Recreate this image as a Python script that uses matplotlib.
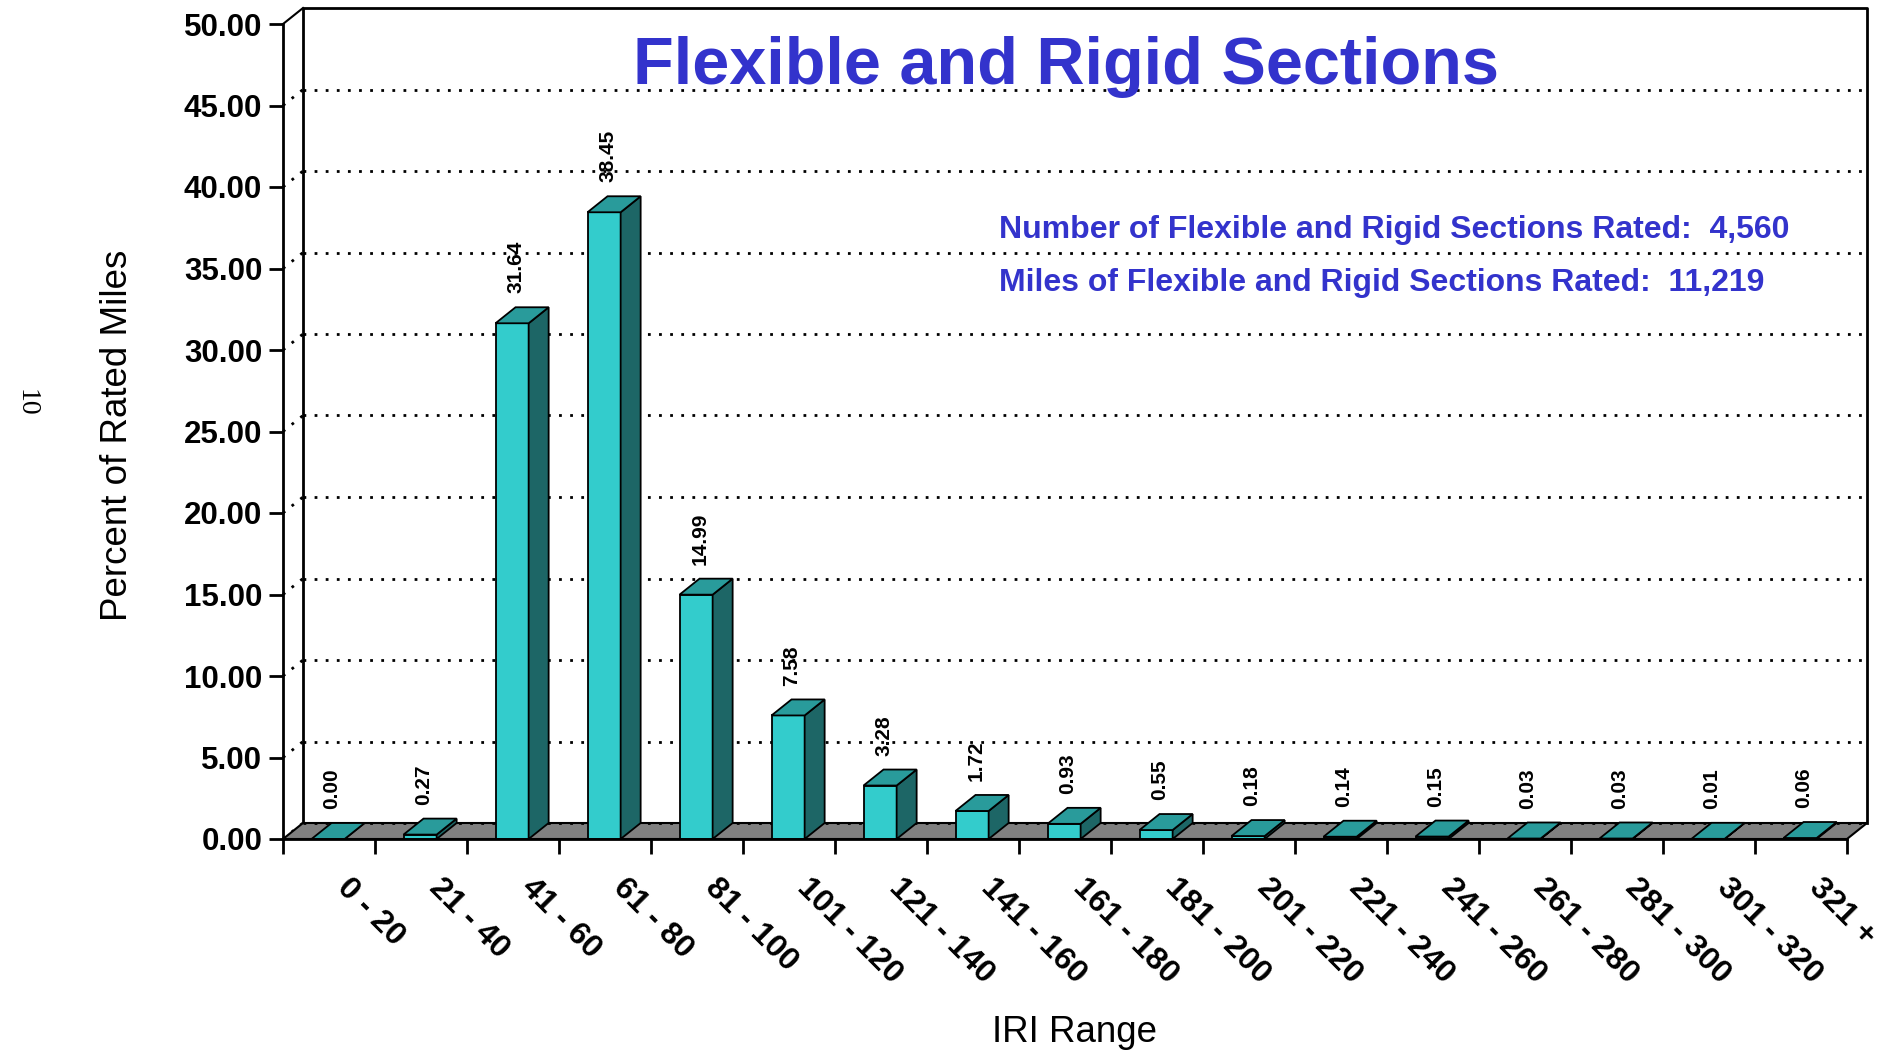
import matplotlib
matplotlib.use("Agg")
import matplotlib.pyplot as plt
from matplotlib.patches import Polygon, Rectangle

plt.rcParams['font.family'] = ['Liberation Sans', 'DejaVu Sans']

# data
categories = ['0 - 20', '21 - 40', '41 - 60', '61 - 80', '81 - 100', '101 - 120',
              '121 - 140', '141 - 160', '161 - 180', '181 - 200', '201 - 220',
              '221 - 240', '241 - 260', '261 - 280', '281 - 300', '301 - 320', '321 +']
percent = [0.00, 0.27, 31.64, 38.45, 14.99, 7.58, 3.28, 1.72, 0.93, 0.55,
           0.18, 0.14, 0.15, 0.03, 0.03, 0.01, 0.06]
yticks = [0, 5, 10, 15, 20, 25, 30, 35, 40, 45, 50]

n_sections = '4,560'
n_miles = '11,219'

front_col = '#33CCCC'
top_col = '#299B9B'
side_col = '#1D6666'
floor_col = '#808080'
blue = '#3333CC'

W, H = 1888, 1053
fig = plt.figure(figsize=(W / 100, H / 100), dpi=100)
ax = fig.add_axes([283 / W, (H - 839) / H, (1847 - 283) / W, (839 - 24) / H])

n = len(categories)
ymax = 50
ax.set_xlim(0, n)
ax.set_ylim(0, ymax)

# depth offset (pixels -> data units)
ax_w_px = 1847 - 283
ax_h_px = 839 - 24
dx = 20 / (ax_w_px / n)
dy = 16 / (ax_h_px / ymax)

# back wall + left wall grid
for y in yticks[:-1]:
    ax.plot([dx, n + dx], [y + dy, y + dy], color='black', lw=2,
            linestyle=(0, (1, 3)), clip_on=False, zorder=1)
    ax.plot([0, dx], [y, y + dy], color='black', lw=2,
            linestyle=(0, (1, 3)), clip_on=False, zorder=1)
ax.plot([dx, dx, n + dx, n + dx], [dy, ymax + dy, ymax + dy, dy],
        color='black', lw=2, clip_on=False, zorder=2)
ax.plot([0, dx], [ymax, ymax + dy], color='black', lw=1.5, clip_on=False, zorder=2)

# floor
floor = Polygon([(0, 0), (n, 0), (n + dx, dy), (dx, dy)], closed=True,
                facecolor=floor_col, edgecolor='black', lw=1.5, clip_on=False, zorder=3)
ax.add_patch(floor)
ax.plot([dx, n + dx], [dy, dy], color='black', lw=2,
        linestyle=(0, (1, 3)), clip_on=False, zorder=3)

# 3d bars
a, w = 0.31, 0.36
for i, v in enumerate(percent):
    x0 = i + a
    x1 = x0 + w
    ax.add_patch(Rectangle((x0, 0), w, v, facecolor=front_col, edgecolor='black',
                           lw=1.3, clip_on=False, zorder=4))
    ax.add_patch(Polygon([(x1, 0), (x1 + dx, dy), (x1 + dx, v + dy), (x1, v)],
                         closed=True, facecolor=side_col, edgecolor='black',
                         lw=1.3, clip_on=False, zorder=4))
    ax.add_patch(Polygon([(x0, v), (x1, v), (x1 + dx, v + dy), (x0 + dx, v + dy)],
                         closed=True, facecolor=top_col, edgecolor='black',
                         lw=1.3, clip_on=False, zorder=4))
    ax.annotate(f'{v:.2f}', (x0 + w / 2 + 0.04, v + dy), xytext=(0, 10),
                textcoords='offset points', rotation=90, ha='center', va='bottom',
                fontsize=15, fontweight='bold', zorder=5)

# axes
for s in ['top', 'right']:
    ax.spines[s].set_visible(False)
for s in ['left', 'bottom']:
    ax.spines[s].set_linewidth(2)
    ax.spines[s].set_zorder(6)

ax.set_yticks(yticks)
ax.set_yticklabels([f'{t:.2f}' for t in yticks], fontsize=22.5, fontweight='bold')
ax.tick_params(axis='y', direction='out', length=10, width=2, pad=5)

ax.set_xticks(range(n + 1))
ax.set_xticklabels([])
ax.tick_params(axis='x', which='major', direction='out', length=11, width=2)
ax.set_xticks([i + 0.75 for i in range(n)], minor=True)
ax.set_xticklabels(categories, minor=True, rotation=-45, ha='left', va='top',
                   rotation_mode='anchor', fontsize=23, fontweight='bold')
ax.tick_params(axis='x', which='minor', length=0, pad=24)

fig.text(118 / W, 1 - 435 / H, 'Percent of Rated Miles', rotation=90,
         ha='center', va='center', fontsize=26.5)
fig.text(1074 / W, 1 - 1032 / H, 'IRI Range', ha='center', va='center', fontsize=26.5)

fig.text(1066 / W, 1 - 67 / H, 'Flexible and Rigid Sections', ha='center', va='center',
         fontsize=48, fontweight='bold', color=blue)
fig.text(999 / W, 1 - 230 / H, f'Number of Flexible and Rigid Sections Rated:  {n_sections}',
         ha='left', va='center', fontsize=23, fontweight='bold', color=blue)
fig.text(999 / W, 1 - 283 / H, f'Miles of Flexible and Rigid Sections Rated:  {n_miles}',
         ha='left', va='center', fontsize=23, fontweight='bold', color=blue)

fig.text(26 / W, 1 - 403 / H, '10', rotation=-90, ha='center', va='center',
         fontsize=20, family=['Liberation Serif', 'DejaVu Serif'])

fig.savefig('out.png', dpi=100)
